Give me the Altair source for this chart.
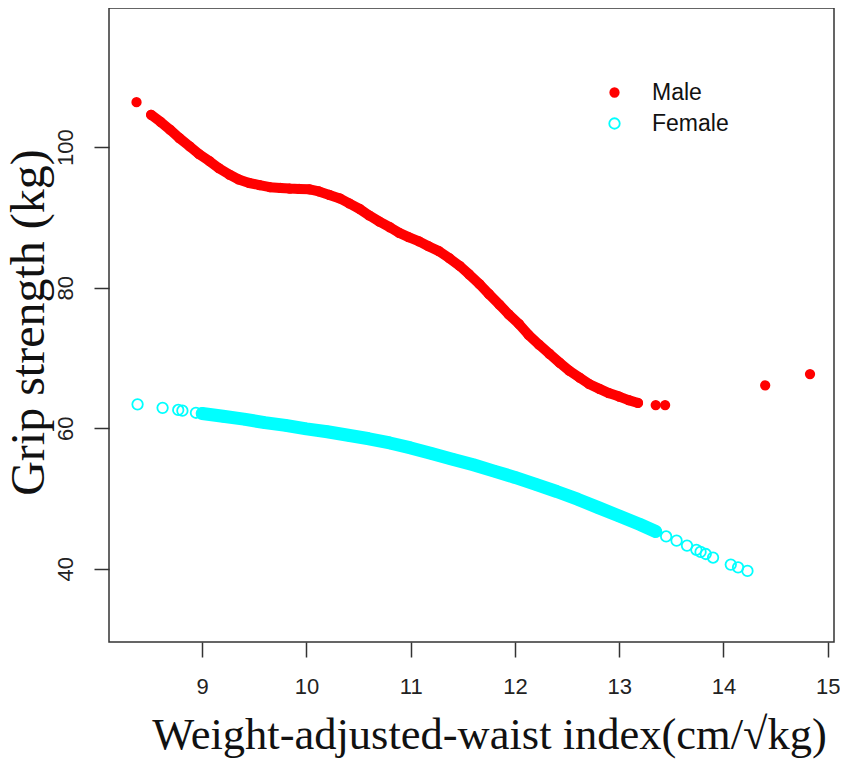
import altair as alt
import pandas as pd

# ---- data ----
male_x = [8.51, 8.60, 8.69, 8.78, 8.88, 8.97, 9.07, 9.16, 9.26, 9.35, 9.45, 9.55, 9.65, 9.75,
          9.84, 9.93, 10.03, 10.12, 10.22, 10.32, 10.41, 10.51, 10.60, 10.70, 10.80, 10.89,
          10.98, 11.08, 11.17, 11.27, 11.37, 11.47, 11.56, 11.66, 11.75, 11.85, 11.94, 12.04,
          12.13, 12.23, 12.33, 12.43, 12.52, 12.62, 12.71, 12.81, 12.90, 13.00, 13.09, 13.18]
male_y = [104.6, 103.6, 102.5, 101.3, 100.1, 99.0, 98.0, 97.0, 96.1, 95.4, 94.9, 94.6, 94.3, 94.2,
          94.1, 94.05, 94.0, 93.7, 93.2, 92.7, 92.0, 91.2, 90.3, 89.4, 88.6, 87.8,
          87.2, 86.6, 85.9, 85.2, 84.2, 83.1, 81.9, 80.5, 79.1, 77.6, 76.2, 74.8,
          73.3, 71.9, 70.6, 69.3, 68.2, 67.2, 66.3, 65.6, 65.0, 64.5, 64.0, 63.6]
male_sparse_x = [8.37, 13.35, 13.44, 14.40, 14.83]
male_sparse_y = [106.4, 63.3, 63.3, 66.1, 67.7]

female_x = [9.00, 9.20, 9.40, 9.60, 9.80, 10.00, 10.20, 10.40, 10.60, 10.80, 11.00, 11.20,
            11.40, 11.60, 11.80, 12.00, 12.20, 12.40, 12.60, 12.80, 13.00, 13.20, 13.35]
female_y = [62.1, 61.7, 61.3, 60.8, 60.4, 59.9, 59.5, 59.0, 58.5, 57.9, 57.2, 56.4,
            55.6, 54.8, 53.9, 53.0, 52.0, 51.0, 49.9, 48.7, 47.5, 46.3, 45.3]
female_sparse_x = [8.38, 8.62, 8.77, 8.81, 8.94, 13.45, 13.55, 13.65, 13.74, 13.78, 13.83,
                   13.90, 14.07, 14.14, 14.23]
female_sparse_y = [63.4, 62.9, 62.6, 62.5, 62.2, 44.6, 44.0, 43.3, 42.7, 42.4, 42.1,
                   41.6, 40.6, 40.2, 39.7]

sex_order = ["Male", "Female"]
x_ticks = [9, 10, 11, 12, 13, 14, 15]
y_ticks = [40, 60, 80, 100]

rows = []
for sx, xs, ys, part in [("Male", male_x, male_y, "dense"),
                         ("Male", male_sparse_x, male_sparse_y, "sparse"),
                         ("Female", female_x, female_y, "dense"),
                         ("Female", female_sparse_x, female_sparse_y, "sparse")]:
    for a, b in zip(xs, ys):
        rows.append({"sex": sx, "wwi": a, "grip": b, "part": part})
df = pd.DataFrame(rows)

LABEL_FONT = "Liberation Sans"
TITLE_FONT = "Liberation Serif"

x_enc = alt.X("wwi:Q",
              scale=alt.Scale(domain=[8.106, 15.06], nice=False, zero=False),
              axis=alt.Axis(values=x_ticks, grid=False, domain=False,
                            tickSize=15, tickColor="#333", tickWidth=1.5,
                            labelFont=LABEL_FONT, labelFontSize=22, labelColor="#222",
                            labelBaseline="alphabetic", labelPadding=36,
                            labelFlush=False,
                            title="Weight-adjusted-waist index(cm/\u221akg)",
                            titleFont=TITLE_FONT, titleFontSize=44.5, titleFontWeight="normal",
                            titleColor="#111", titleBaseline="alphabetic",
                            titleX=380, titleY=106, titleAlign="center"))
y_enc = alt.Y("grip:Q",
              scale=alt.Scale(domain=[29.58, 119.8], nice=False, zero=False),
              axis=alt.Axis(values=y_ticks, grid=False, domain=False,
                            tickSize=15, tickColor="#333", tickWidth=1.5,
                            labelFont=LABEL_FONT, labelFontSize=22, labelColor="#222",
                            labelAngle=270, labelAlign="center", labelBaseline="alphabetic",
                            labelPadding=22, labelFlush=False,
                            title="Grip strength (kg)",
                            titleFont=TITLE_FONT, titleFontSize=48, titleFontWeight="normal",
                            titleColor="#111", titleAngle=270, titleBaseline="alphabetic",
                            titleAlign="center", titleX=-66, titleY=314))

base = alt.Chart(df)

male_line = base.transform_filter(
    (alt.datum.sex == "Male") & (alt.datum.part == "dense")
).mark_line(color="#FF0000", strokeWidth=10, strokeCap="round", strokeJoin="round").encode(
    x=x_enc, y=y_enc, order="wwi:Q")

female_line = base.transform_filter(
    (alt.datum.sex == "Female") & (alt.datum.part == "dense")
).mark_line(color="#00FFFF", strokeWidth=13, strokeCap="round", strokeJoin="round").encode(
    x=x_enc, y=y_enc, order="wwi:Q")

legend = alt.Legend(title=None, orient="none", legendX=494, legendY=73,
                    labelFont=LABEL_FONT, labelFontSize=23, labelColor="#111",
                    labelOffset=26, rowPadding=7, symbolType="circle",
                    symbolStrokeWidth=1.8, padding=0)

points = base.mark_point(shape="circle", strokeWidth=1.8, opacity=1).encode(
    x=x_enc, y=y_enc,
    stroke=alt.Stroke("sex:N", scale=alt.Scale(domain=sex_order, range=["#FF0000", "#00FFFF"]),
                      legend=legend),
    fill=alt.Fill("sex:N", scale=alt.Scale(domain=sex_order, range=["#FF0000", "transparent"]),
                  legend=legend),
    size=alt.Size("sex:N", scale=alt.Scale(domain=sex_order, range=[72, 110]), legend=legend),
)

chart = alt.layer(female_line, male_line, points).properties(
    width=725, height=634,
    background="white",
    autosize=alt.AutoSizeParams(type="none"),
    padding={"left": 101, "top": 0, "right": 6, "bottom": 117},
).configure_view(stroke="#333", strokeWidth=1.5)

chart.save("out.html", embed_options={"renderer": "svg", "actions": False})
